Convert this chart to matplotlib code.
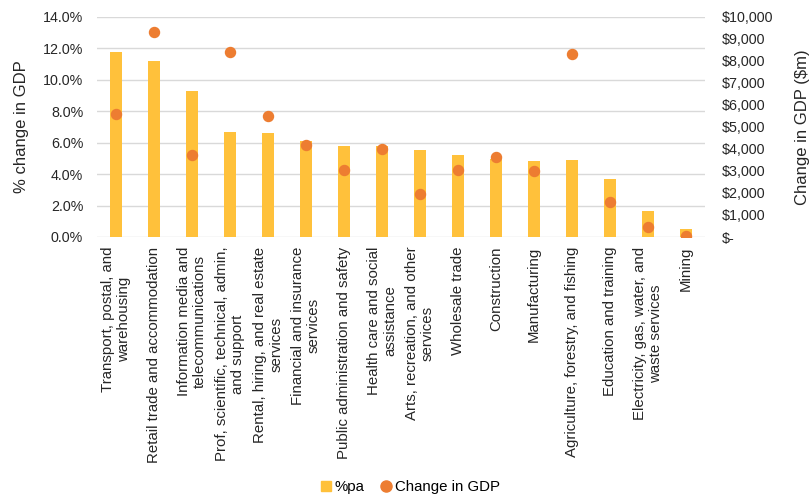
import numpy as np
import matplotlib
matplotlib.use("Agg")
from matplotlib import pyplot as plt
from matplotlib.lines import Line2D

plt.rcParams['font.family'] = ['Liberation Sans', 'DejaVu Sans']

# data
industries = [
    "Transport, postal, and\nwarehousing",
    "Retail trade and accommodation",
    "Information media and\ntelecommunications",
    "Prof, scientific, technical, admin,\nand support",
    "Rental, hiring, and real estate\nservices",
    "Financial and insurance\nservices",
    "Public administration and safety",
    "Health care and social\nassistance",
    "Arts, recreation, and other\nservices",
    "Wholesale trade",
    "Construction",
    "Manufacturing",
    "Agriculture, forestry, and fishing",
    "Education and training",
    "Electricity, gas, water, and\nwaste services",
    "Mining",
]
pct_pa = [11.8, 11.17, 9.32, 6.66, 6.64, 6.11, 5.79, 5.79, 5.55, 5.21, 4.96,
          4.83, 4.89, 3.72, 1.68, 0.49]
gdp_change = [5610, 9320, 3710, 8430, 5500, 4180, 3030, 4000, 1950, 3050,
              3620, 2980, 8310, 1580, 470, 60]

bar_color = '#FFC13B'
dot_color = '#ED7D31'
grid_color = '#D9D9D9'
text_color = '#262626'

fig = plt.figure(figsize=(8.12, 5.0), dpi=100)
ax = fig.add_axes([0.1195, 0.526, 0.7485, 0.44])
x = np.arange(len(industries))

ax.bar(x, pct_pa, width=0.32, color=bar_color, zorder=2)
ax.set_xlim(-0.5, len(industries) - 0.5)
ax.set_ylim(0, 14)
ax.set_yticks(np.arange(0, 15, 2))
ax.set_yticklabels(['%.1f%%' % v for v in np.arange(0, 15, 2)])
ax.yaxis.grid(True, color=grid_color, linewidth=1, zorder=0)
ax.set_axisbelow(True)
for s in ax.spines.values():
    s.set_visible(False)
ax.tick_params(axis='both', length=0, labelsize=10.3, colors=text_color)
ax.tick_params(axis='y', pad=10)
ax.set_xticks(x)
ax.set_xticklabels(industries, rotation=90, ha='center', va='top',
                   multialignment='center', fontsize=10.8)
ax.tick_params(axis='x', pad=7)
ax.set_ylabel('% change in GDP', fontsize=12, color=text_color, labelpad=10)

ax2 = ax.twinx()
ax2.scatter(x, gdp_change, s=52, color=dot_color, zorder=3)
ax2.set_ylim(0, 10000)
ticks = np.arange(0, 10001, 1000)
ax2.set_yticks(ticks)
ax2.set_yticklabels(['$-' if t == 0 else '${:,.0f}'.format(t) for t in ticks])
for s in ax2.spines.values():
    s.set_visible(False)
ax2.tick_params(axis='y', length=0, labelsize=10.3, colors=text_color, pad=12)
ax2.set_ylabel('Change in GDP ($m)', fontsize=12, color=text_color, labelpad=16)

handles = [
    Line2D([], [], marker='s', linestyle='none', color=bar_color, markersize=7),
    Line2D([], [], marker='o', linestyle='none', color=dot_color, markersize=8),
]
fig.legend(handles, ['%pa', 'Change in GDP'], loc='center', ncol=2,
           bbox_to_anchor=(0.503, 0.026), frameon=False, fontsize=10.8,
           handletextpad=0.0, columnspacing=0.8, handlelength=1.2)

fig.savefig('out.png', dpi=100)
